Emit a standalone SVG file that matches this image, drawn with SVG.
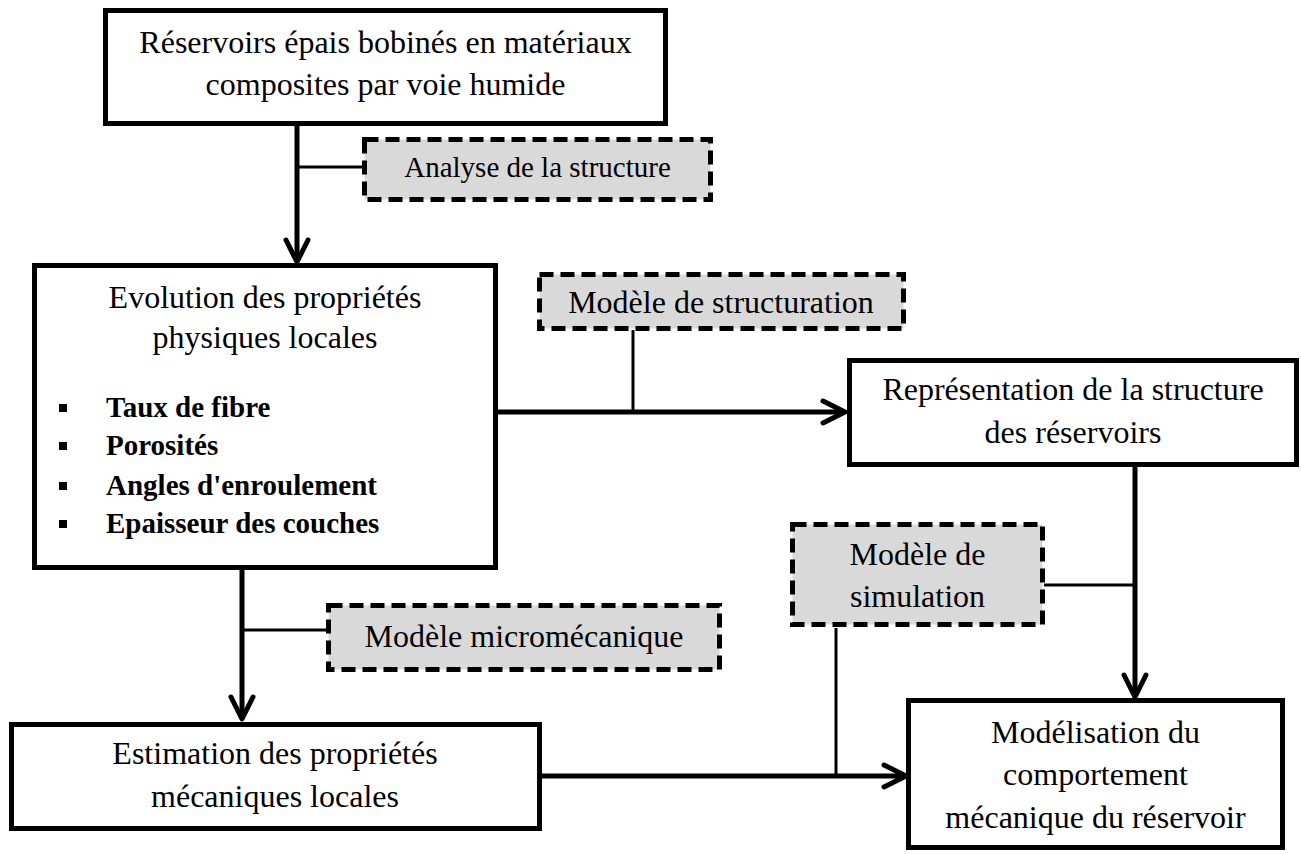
<svg xmlns="http://www.w3.org/2000/svg" width="1301" height="854" viewBox="0 0 1301 854">
<style>
  .box { fill: #ffffff; stroke: #000000; stroke-width: 5; }
  .dbox { fill: #d9d9d9; stroke: #000000; stroke-width: 5; stroke-dasharray: 14 7; }
  .t { font-family: "Liberation Serif", "Times New Roman", serif; font-size: 32px; fill: #000000; text-anchor: middle; }
  .ts { font-size: 29px; }
  .b { font-family: "Liberation Serif", "Times New Roman", serif; font-size: 29px; font-weight: bold; fill: #000000; }
  .main { fill: none; stroke: #000000; stroke-width: 5; }
  .thin { fill: none; stroke: #000000; stroke-width: 3; }
</style>
<defs>
  <marker id="arrow" viewBox="0 0 26 26" refX="21" refY="13" markerWidth="26" markerHeight="26" markerUnits="userSpaceOnUse" orient="auto" overflow="visible">
    <path d="M2,2 L24,13 L2,24" fill="none" stroke="#000000" stroke-width="5" stroke-linecap="round" stroke-linejoin="round"/>
  </marker>
</defs>
<rect width="1301" height="854" fill="#ffffff"/>

<g id="connectors">
  <path class="main" d="M297,126 L297,259" marker-end="url(#arrow)"/>
  <path class="thin" d="M297,167 L363,167"/>
  <path class="main" d="M498,412 L842,412" marker-end="url(#arrow)"/>
  <path class="thin" d="M633,330 L633,412"/>
  <path class="main" d="M242,570 L242,716" marker-end="url(#arrow)"/>
  <path class="thin" d="M242,630 L327,630"/>
  <path class="main" d="M1135,467 L1135,694" marker-end="url(#arrow)"/>
  <path class="thin" d="M1044,585 L1135,585"/>
  <path class="main" d="M542,776 L903,776" marker-end="url(#arrow)"/>
  <path class="thin" d="M836,628 L836,776"/>
</g>

<g id="node-reservoirs">
  <rect class="box" x="105.5" y="10.5" width="560" height="113"/>
  <text class="t" x="385.5" y="53">Réservoirs épais bobinés en matériaux</text>
  <text class="t" x="385.5" y="95">composites par voie humide</text>
</g>

<g id="node-analyse">
  <rect class="dbox" x="364.5" y="139.5" width="346" height="60"/>
  <text class="t ts" x="537.5" y="177">Analyse de la structure</text>
</g>

<g id="node-evolution">
  <rect class="box" x="34.5" y="265.5" width="461" height="302"/>
  <text class="t" x="265" y="308">Evolution des propriétés</text>
  <text class="t" x="265" y="348">physiques locales</text>
  <rect x="59" y="404" width="8" height="8" fill="#000000"/>
  <rect x="59" y="442" width="8" height="8" fill="#000000"/>
  <rect x="59" y="482" width="8" height="8" fill="#000000"/>
  <rect x="59" y="520" width="8" height="8" fill="#000000"/>
  <text class="b" x="106" y="417">Taux de fibre</text>
  <text class="b" x="106" y="455">Porosités</text>
  <text class="b" x="106" y="495">Angles d'enroulement</text>
  <text class="b" x="106" y="533">Epaisseur des couches</text>
</g>

<g id="node-structuration">
  <rect class="dbox" x="539.5" y="274.5" width="364" height="54"/>
  <text class="t" x="721" y="313">Modèle de structuration</text>
</g>

<g id="node-representation">
  <rect class="box" x="849.5" y="360.5" width="447" height="104"/>
  <text class="t" x="1073" y="400">Représentation de la structure</text>
  <text class="t" x="1073" y="443">des réservoirs</text>
</g>

<g id="node-simulation">
  <rect class="dbox" x="792.5" y="524.5" width="250" height="100"/>
  <text class="t" x="917.5" y="565">Modèle de</text>
  <text class="t" x="917.5" y="607">simulation</text>
</g>

<g id="node-micromecanique">
  <rect class="dbox" x="328.5" y="605.5" width="391" height="64"/>
  <text class="t" x="524" y="647">Modèle micromécanique</text>
</g>

<g id="node-estimation">
  <rect class="box" x="11.5" y="724.5" width="528" height="104"/>
  <text class="t" x="275" y="764">Estimation des propriétés</text>
  <text class="t" x="275" y="807">mécaniques locales</text>
</g>

<g id="node-modelisation">
  <rect class="box" x="908.5" y="700.5" width="374" height="147"/>
  <text class="t" x="1095.5" y="743">Modélisation du</text>
  <text class="t" x="1095.5" y="785">comportement</text>
  <text class="t" x="1095.5" y="828">mécanique du réservoir</text>
</g>
</svg>
